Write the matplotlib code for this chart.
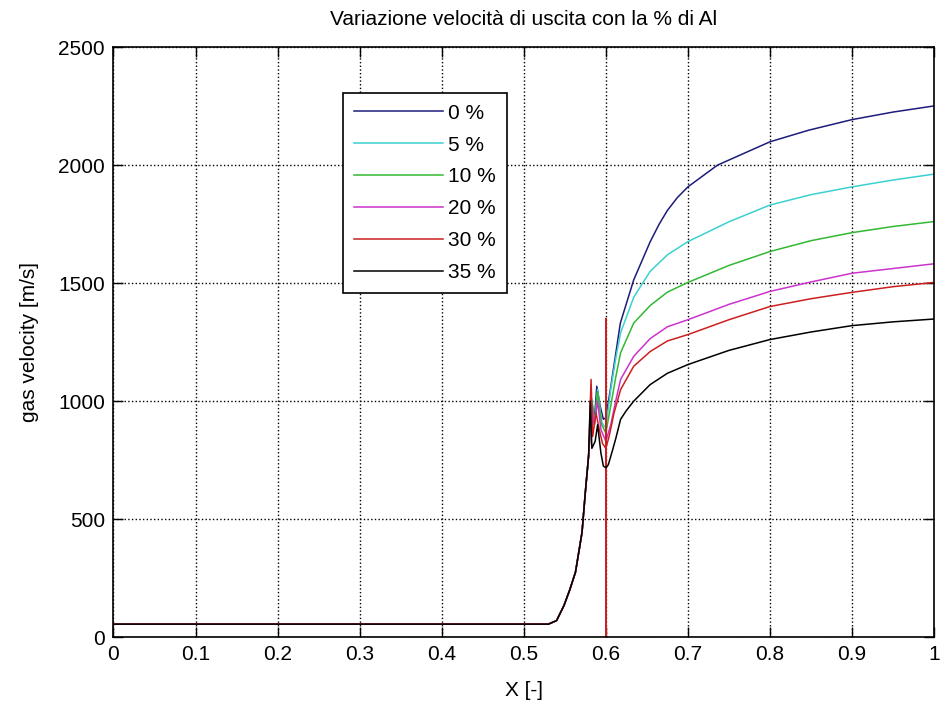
import numpy as np
import matplotlib
matplotlib.use('Agg')
import matplotlib.pyplot as plt

plt.rcParams['font.family'] = ['Liberation Sans', 'DejaVu Sans']

# common part: flat inlet + rise (all curves overlap here)
x_rise = [0.0, 0.53, 0.54, 0.549, 0.556, 0.563, 0.571, 0.575, 0.579]
v_rise = [55, 55, 70, 134, 200, 275, 444, 613, 768]

# tail of each curve
x_0 = [0.583, 0.586, 0.589, 0.593, 0.597, 0.600, 0.6055, 0.6177, 0.634, 0.654,
       0.665, 0.675, 0.687, 0.700, 0.736, 0.800, 0.847, 0.900, 0.950, 1.0]
v_0 = [1000, 920, 1063, 980, 923, 930, 1049, 1331, 1514, 1675,
       1750, 1808, 1862, 1908, 2000, 2099, 2148, 2193, 2225, 2251]

x_5 = [0.583, 0.586, 0.590, 0.595, 0.600, 0.606, 0.612, 0.618, 0.634, 0.654,
       0.675, 0.700, 0.750, 0.800, 0.850, 0.900, 0.950, 1.0]
v_5 = [1010, 900, 1050, 910, 885, 1050, 1180, 1290, 1440, 1550,
       1620, 1676, 1760, 1831, 1875, 1908, 1937, 1962]

x_10 = [0.583, 0.586, 0.590, 0.595, 0.600, 0.606, 0.612, 0.618, 0.634, 0.654,
        0.675, 0.700, 0.750, 0.800, 0.850, 0.900, 0.950, 1.0]
v_10 = [1000, 900, 1040, 900, 864, 980, 1100, 1205, 1331, 1405,
        1462, 1503, 1575, 1634, 1680, 1714, 1740, 1761]

x_20 = [0.583, 0.586, 0.590, 0.594, 0.600, 0.606, 0.612, 0.618, 0.634, 0.654,
        0.675, 0.700, 0.750, 0.800, 0.850, 0.900, 0.950, 1.0]
v_20 = [980, 900, 1000, 880, 830, 900, 1000, 1092, 1190, 1265,
        1315, 1345, 1410, 1465, 1505, 1542, 1562, 1582]

x_30 = [0.582, 0.584, 0.588, 0.592, 0.596, 0.600, 0.600, 0.600, 0.600, 0.604,
        0.610, 0.618, 0.634, 0.654, 0.675, 0.700, 0.750, 0.800, 0.850, 0.900,
        0.950, 1.0]
v_30 = [1092, 850, 950, 880, 820, 800, 0, 1350, 800, 850,
        950, 1049, 1148, 1210, 1255, 1282, 1345, 1401, 1434, 1461,
        1485, 1503]

x_35 = [0.581, 0.583, 0.587, 0.590, 0.594, 0.597, 0.600, 0.603, 0.608, 0.612,
        0.618, 0.625, 0.634, 0.654, 0.675, 0.700, 0.750, 0.800, 0.850, 0.900,
        0.950, 1.0]
v_35 = [1000, 800, 830, 900, 780, 725, 718, 730, 790, 840,
        923, 960, 1000, 1070, 1118, 1155, 1215, 1261, 1293, 1320,
        1336, 1348]

labels = ['0 %', '5 %', '10 %', '20 %', '30 %', '35 %']
colors = ['#1c1c7a', '#3cd0d0', '#33b833', '#cc33cc', '#cc2020', '#000000']
tails = [(x_0, v_0), (x_5, v_5), (x_10, v_10), (x_20, v_20), (x_30, v_30), (x_35, v_35)]

fig = plt.figure(figsize=(9.4, 7.04), dpi=100)
ax = fig.add_axes([0.1207, 0.095, 0.873, 0.838])

for (xt, vt), lab, c in zip(tails, labels, colors):
    ax.plot(x_rise + xt, v_rise + vt, color=c, lw=1.1, label=lab)

ax.set_xlim(0, 1)
ax.set_ylim(0, 2500)
ax.set_xticks(np.arange(0, 1.01, 0.1))
ax.set_xticklabels(['0', '0.1', '0.2', '0.3', '0.4', '0.5', '0.6', '0.7', '0.8', '0.9', '1'])
ax.set_yticks([0, 500, 1000, 1500, 2000, 2500])
ax.tick_params(direction='in', top=True, right=True, length=7, width=1,
               labelsize=15, pad=6)
ax.grid(True, linestyle=':', color='black', lw=1)
for s in ax.spines.values():
    s.set_linewidth(1.2)

ax.set_title('Variazione velocità di uscita con la % di Al', fontsize=15, pad=16)
ax.set_xlabel('X [-]', fontsize=15, labelpad=12)
ax.set_ylabel('gas velocity [m/s]', fontsize=15, labelpad=14)

leg = ax.legend(loc='upper left', bbox_to_anchor=(0.28, 0.922), fontsize=15,
                handlelength=4.3, labelspacing=0.62, handletextpad=0.25,
                borderpad=0.5, borderaxespad=0, fancybox=False, framealpha=1,
                edgecolor='black')
leg.get_frame().set_linewidth(1.2)

fig.savefig('out.png', dpi=100)
